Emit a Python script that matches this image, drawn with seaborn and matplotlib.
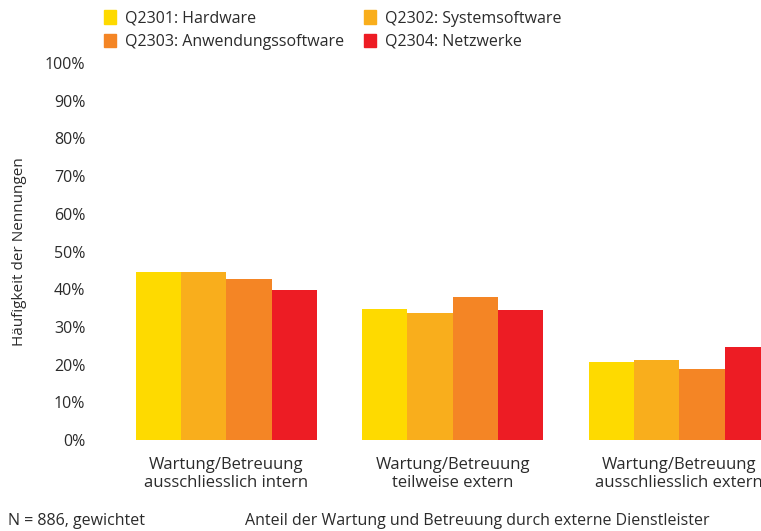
import matplotlib
matplotlib.use("Agg")
import matplotlib.pyplot as plt
import matplotlib.patches as mpatches
import seaborn as sns
import pandas as pd

# Data (percent of answers)
categories = ["Wartung/Betreuung\nausschliesslich intern",
              "Wartung/Betreuung\nteilweise extern",
              "Wartung/Betreuung\nausschliesslich extern"]
series = ["Q2301: Hardware", "Q2302: Systemsoftware",
          "Q2303: Anwendungssoftware", "Q2304: Netzwerke"]
hardware = [44.6, 34.7, 20.7]
systemsoftware = [44.6, 33.7, 21.2]
anwendungssoftware = [42.7, 37.9, 18.8]
netzwerke = [39.8, 34.5, 24.7]
colors = ["#FEDA00", "#F9AE1C", "#F48525", "#ED1C24"]

rows = []
for name, vals in zip(series, [hardware, systemsoftware, anwendungssoftware, netzwerke]):
    for cat, v in zip(categories, vals):
        rows.append({"Kategorie": cat, "Frage": name, "Wert": v})
df = pd.DataFrame(rows)

sns.set_style("white")
plt.rcParams['font.family'] = ['Open Sans', 'DejaVu Sans']
text_col = "#2b2b2b"

fig = plt.figure(figsize=(7.61, 5.31), dpi=100)
ax = fig.add_axes([113 / 761, 91 / 531, 679.5 / 761, 377 / 531])

sns.barplot(data=df, x="Kategorie", y="Wert", hue="Frage", order=categories,
            hue_order=series, palette=colors, width=0.8, saturation=1,
            edgecolor="none", linewidth=0, ax=ax, legend=False)

ax.set_xlim(-0.5, 2.5)
ax.set_ylim(0, 100)
ax.set_yticks(range(0, 101, 10))
ax.set_yticklabels([f"{t}%" for t in range(0, 101, 10)], fontsize=11.5, color=text_col)
ax.tick_params(axis="y", length=0, pad=20)
ax.tick_params(axis="x", length=0, pad=12, labelsize=12, labelcolor=text_col)
ax.set_xlabel("")
ax.set_ylabel("Häufigkeit der Nennungen", fontsize=11, color=text_col)
ax.yaxis.set_label_coords(-86 / 679.5, 0.5)
for s in ax.spines.values():
    s.set_visible(False)
ax.grid(False)

# legend filled row by row: H, S / A, N
handles = [mpatches.Patch(color=c, label=l) for c, l in zip(colors, series)]
handles = [handles[0], handles[2], handles[1], handles[3]]
fig.legend(handles=handles, ncol=2, loc="upper left",
           bbox_to_anchor=(94 / 761, 1.0), frameon=False, fontsize=11.5,
           handlelength=0.75, handleheight=0.9, handletextpad=0.55,
           columnspacing=1.25, labelspacing=0.45, labelcolor=text_col,
           borderaxespad=0.25)

fig.text(8 / 761, 10 / 531, "N = 886, gewichtet", fontsize=11.5,
         color=text_col, ha="left", va="center")
fig.text(477 / 761, 10 / 531,
         "Anteil der Wartung und Betreuung durch externe Dienstleister",
         fontsize=11.5, color=text_col, ha="center", va="center")

fig.savefig("out.png", dpi=100)
